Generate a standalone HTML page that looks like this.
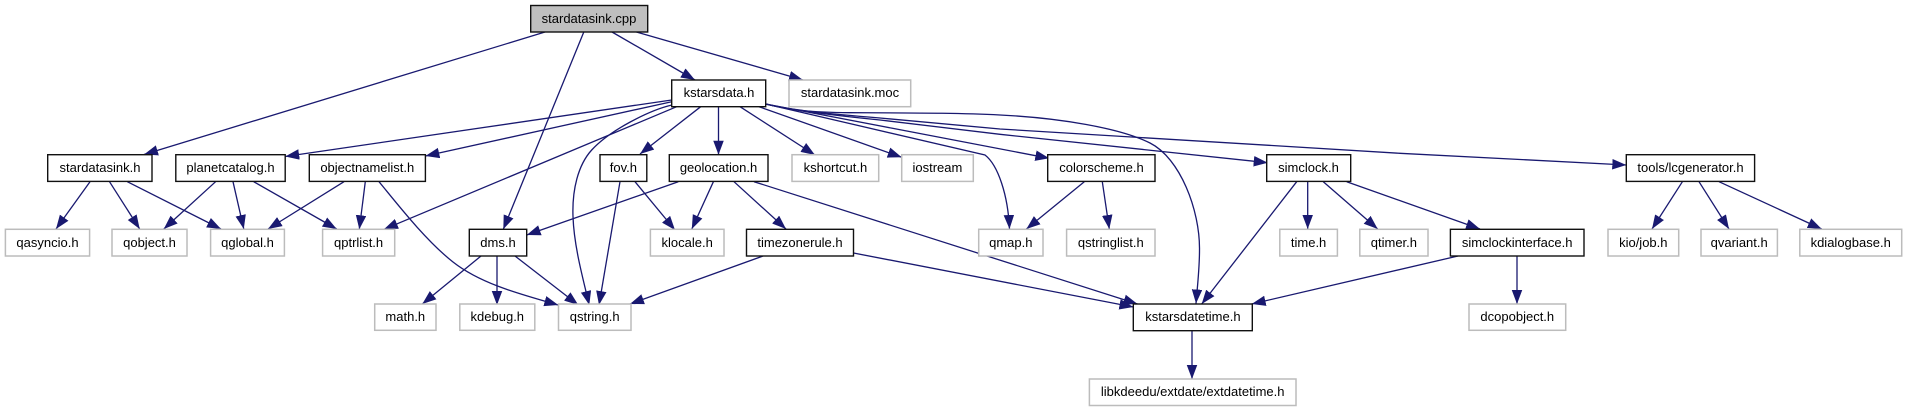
<!DOCTYPE html>
<html><head><meta charset="utf-8"><style>html,body{margin:0;padding:0;background:#fff}svg{display:block}
text{font-family:"Liberation Sans",sans-serif;font-size:13px;text-anchor:middle;fill:#000}
.k rect{fill:#fff;stroke:#111;stroke-width:1.4}.g rect{fill:#fff;stroke:#bcbcbc;stroke-width:1.5}
path{fill:none;stroke:#191970;stroke-width:1.3;marker-end:url(#a)}</style></head><body>
<svg width="1907" height="411" viewBox="0 0 1907 411" xmlns="http://www.w3.org/2000/svg">
<defs><marker id="a" markerUnits="userSpaceOnUse" markerWidth="15" markerHeight="11" refX="14" refY="5.25" orient="auto"><polygon points="0,0 14,5.25 0,10.5" fill="#191970"/></marker></defs>
<g>
<path d="M545,32L144,154.5"/>
<path d="M583.8,32L503.3,229.3"/>
<path d="M612,32L695,80"/>
<path d="M636.4,32L803,80"/>
<path d="M671.7,100L285.2,156.5"/>
<path d="M671.7,101.7L425.4,156"/>
<path d="M676.7,106.7L384,229.3"/>
<path d="M672,105C650,110 610,130 591.7,150C578,165 572,190 573,216.7C574,245 582,275 589.3,305"/>
<path d="M700.7,106.7L640,154"/>
<path d="M718.5,106.7L718.5,154.7"/>
<path d="M740,106.7L815,155"/>
<path d="M759,106.7L901.7,157.3"/>
<path d="M765.7,104L985,155C998,165 1008,195 1009.5,229"/>
<path d="M765.7,104L1049.3,158.3"/>
<path d="M765.7,104C790,110 810,112.5 850,112.7C920,113 960,113 1000,115C1060,118 1120,128 1150,143C1180,158 1200,210 1199.5,250C1199.5,270 1197,290 1196,303.5"/>
<path d="M765.7,104C790,110 830,115 880,120L1000,134.3L1267.7,162.7"/>
<path d="M765.7,104C790,110 830,114 880,118L1000,129L1400,153.3L1626.3,165"/>
<path d="M90,181.7L56,229"/>
<path d="M109.5,181.7L139.7,229"/>
<path d="M127.3,181.7L221,229"/>
<path d="M215.6,181.7L163.8,229"/>
<path d="M233,181.7L243.8,229"/>
<path d="M253.7,181.7L336.7,229"/>
<path d="M344,181.7L268,229"/>
<path d="M365.3,181.7L359.3,229.3"/>
<path d="M379,181.7C395,201 425,240 453,262C481,284 520,294 558.3,305"/>
<path d="M481,256L422.3,304"/>
<path d="M497,256L497,305"/>
<path d="M515,256L578.3,305"/>
<path d="M620,181.7L599,305"/>
<path d="M635,181.7L675,230"/>
<path d="M678.3,181.7L526.7,235"/>
<path d="M713.4,181.7L691.8,229"/>
<path d="M734,181.7L786,229"/>
<path d="M754,181.7L1137.5,304"/>
<path d="M763,256L630,304"/>
<path d="M853.5,253L1133.4,307"/>
<path d="M1084.3,181.7L1026.4,229"/>
<path d="M1102.3,181.7L1109.3,229"/>
<path d="M1296.7,181.7L1201.7,304"/>
<path d="M1307.7,181.7L1307.7,229"/>
<path d="M1323.3,181.7L1377.7,229"/>
<path d="M1346.7,181.7L1480,229"/>
<path d="M1458,256L1251.7,304"/>
<path d="M1517,256L1517,304"/>
<path d="M1682.4,181.7L1652,229"/>
<path d="M1699,181.7L1729,229"/>
<path d="M1719,181.7L1821.7,229"/>
<path d="M1192,331L1192,379"/>
</g>
<g class="k">
<rect x="530.7" y="5.5" width="117" height="26.5" style="fill:#bfbfbf"/><text x="589" y="23">stardatasink.cpp</text>
<rect x="671.7" y="80" width="94" height="26.7"/><text x="719" y="97">kstarsdata.h</text>
<rect x="47.7" y="154.7" width="104.3" height="26.7"/><text x="100" y="172">stardatasink.h</text>
<rect x="175.8" y="154.7" width="109.4" height="26.7"/><text x="230.5" y="172">planetcatalog.h</text>
<rect x="309.3" y="154.7" width="116.1" height="26.7"/><text x="367.3" y="172">objectnamelist.h</text>
<rect x="600" y="154.7" width="46.8" height="26.7"/><text x="623.4" y="172">fov.h</text>
<rect x="669.3" y="154.7" width="98.7" height="26.7"/><text x="718.5" y="172">geolocation.h</text>
<rect x="1047.7" y="154.7" width="107.3" height="26.7"/><text x="1101.5" y="172">colorscheme.h</text>
<rect x="1266.7" y="154.7" width="84" height="26.7"/><text x="1308.5" y="172">simclock.h</text>
<rect x="1626.3" y="154.7" width="128.3" height="26.7"/><text x="1690.5" y="172">tools/lcgenerator.h</text>
<rect x="469.3" y="229.3" width="57.4" height="26.7"/><text x="498" y="247">dms.h</text>
<rect x="746.5" y="229.3" width="107" height="26.7"/><text x="800" y="247">timezonerule.h</text>
<rect x="1450.4" y="229.3" width="133.6" height="26.7"/><text x="1517.2" y="247">simclockinterface.h</text>
<rect x="1133.3" y="304" width="119" height="26.7"/><text x="1192.9" y="321">kstarsdatetime.h</text>
</g>
<g class="g">
<rect x="789" y="80" width="121.7" height="26.7"/><text x="850" y="97">stardatasink.moc</text>
<rect x="792" y="154.7" width="86.7" height="26.7"/><text x="835.4" y="172">kshortcut.h</text>
<rect x="901.7" y="154.7" width="71.6" height="26.7"/><text x="937.4" y="172">iostream</text>
<rect x="5.4" y="229.3" width="84.2" height="26.7"/><text x="47.5" y="247">qasyncio.h</text>
<rect x="112" y="229.3" width="75" height="26.7"/><text x="149.5" y="247">qobject.h</text>
<rect x="210.6" y="229.3" width="73.8" height="26.7"/><text x="247.5" y="247">qglobal.h</text>
<rect x="322.6" y="229.3" width="72.1" height="26.7"/><text x="358.6" y="247">qptrlist.h</text>
<rect x="650.4" y="229.3" width="73.6" height="26.7"/><text x="687.2" y="247">klocale.h</text>
<rect x="978.7" y="229.3" width="64.3" height="26.7"/><text x="1010.8" y="247">qmap.h</text>
<rect x="1066.6" y="229.3" width="88.4" height="26.7"/><text x="1110.8" y="247">qstringlist.h</text>
<rect x="1279.8" y="229.3" width="57.6" height="26.7"/><text x="1308.6" y="247">time.h</text>
<rect x="1359.8" y="229.3" width="68.2" height="26.7"/><text x="1393.9" y="247">qtimer.h</text>
<rect x="1608" y="229.3" width="70.7" height="26.7"/><text x="1643.3" y="247">kio/job.h</text>
<rect x="1701" y="229.3" width="76.4" height="26.7"/><text x="1739.2" y="247">qvariant.h</text>
<rect x="1799.8" y="229.3" width="101.9" height="26.7"/><text x="1850.7" y="247">kdialogbase.h</text>
<rect x="374.7" y="304" width="61.3" height="26.3"/><text x="405.3" y="321">math.h</text>
<rect x="459.8" y="304" width="75" height="26.3"/><text x="497.3" y="321">kdebug.h</text>
<rect x="558.5" y="304" width="72.5" height="26.3"/><text x="594.7" y="321">qstring.h</text>
<rect x="1469" y="304" width="96.7" height="26.3"/><text x="1517.3" y="321">dcopobject.h</text>
<rect x="1089.4" y="379" width="206.6" height="26.5"/><text x="1192.7" y="396">libkdeedu/extdate/extdatetime.h</text>
</g>
</svg></body></html>
